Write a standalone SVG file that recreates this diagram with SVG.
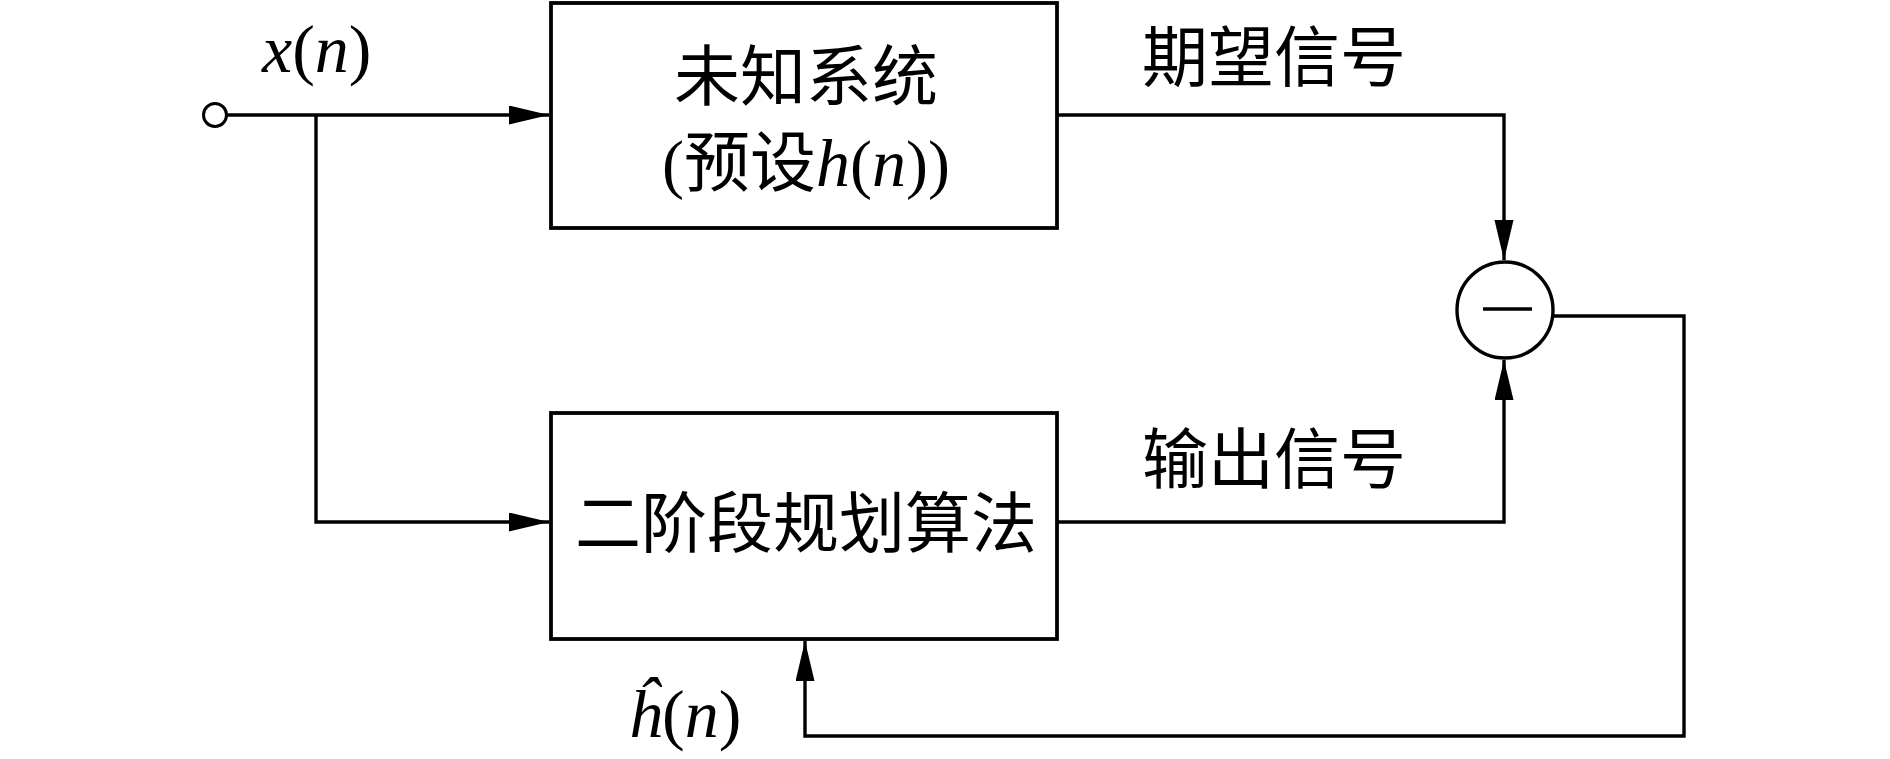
<svg xmlns="http://www.w3.org/2000/svg" width="1890" height="759" viewBox="0 0 1890 759">
<style>
.ln{fill:none;stroke:#000;stroke-width:3.4}
.box{fill:#fff;stroke:#000;stroke-width:3.8}
.cjk{font-family:"Liberation Serif","Noto Sans CJK SC",serif;font-size:66px;fill:#000}
.math{font-family:"Liberation Serif",serif;font-size:68px;fill:#000}
.it{font-style:italic}
</style>
<defs>
<marker id="ar" markerUnits="userSpaceOnUse" markerWidth="42" markerHeight="20" refX="40" refY="9.5" orient="auto">
<path d="M0,0 L40,9.5 L0,19 z" fill="#000"/>
</marker>
</defs>
<rect width="1890" height="759" fill="#fff"/>
<g id="connectors">
<path class="ln" d="M227,115 H549" marker-end="url(#ar)"/>
<path class="ln" d="M316,115 V522 H549" marker-end="url(#ar)"/>
<path class="ln" d="M1057,115 H1504 V260" marker-end="url(#ar)"/>
<path class="ln" d="M1057,522 H1504 V360" marker-end="url(#ar)"/>
<path class="ln" d="M1552,316 H1684 V736 H805 V641" marker-end="url(#ar)"/>
</g>
<g id="input">
<circle cx="215" cy="115" r="11.5" fill="#fff" stroke="#000" stroke-width="3"/>
<text class="math it" x="262" y="72">x<tspan font-style="normal">(</tspan>n<tspan font-style="normal">)</tspan></text>
</g>
<g id="unknown-system">
<rect class="box" x="551" y="3" width="506" height="225"/>
<text class="cjk" x="806" y="100" text-anchor="middle">未知系统</text>
<text class="cjk" x="806" y="186" text-anchor="middle">(预设<tspan class="it" font-size="68px">h</tspan>(<tspan class="it" font-size="68px">n</tspan>))</text>
</g>
<g id="algorithm">
<rect class="box" x="551" y="413" width="506" height="226"/>
<text class="cjk" x="806" y="547" text-anchor="middle">二阶段规划算法</text>
</g>
<g id="subtractor">
<circle cx="1505" cy="310" r="48" fill="#fff" stroke="#000" stroke-width="3.4"/>
<line x1="1483" y1="309" x2="1532" y2="309" stroke="#000" stroke-width="3.4"/>
</g>
<g id="labels">
<text class="cjk" x="1142" y="81">期望信号</text>
<text class="cjk" x="1142" y="483">输出信号</text>
<text class="math it" x="628" y="737">ĥ<tspan font-style="normal">(</tspan>n<tspan font-style="normal">)</tspan></text>
</g>
</svg>
